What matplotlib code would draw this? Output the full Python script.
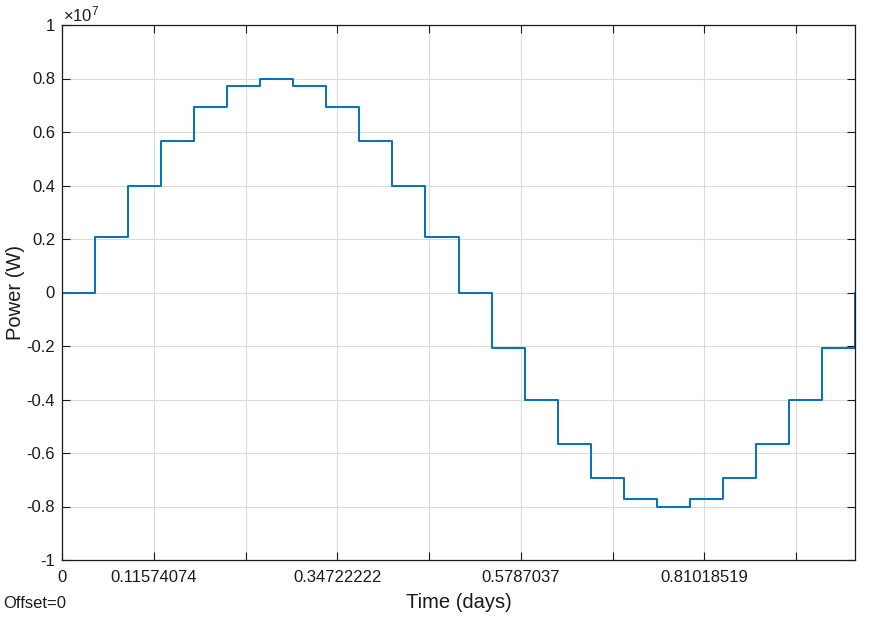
import matplotlib
matplotlib.use("Agg")
import matplotlib.pyplot as plt

plt.rcParams['font.family'] = ['Liberation Sans', 'DejaVu Sans']
plt.rcParams['axes.unicode_minus'] = False
plt.rcParams['mathtext.fontset'] = 'custom'
plt.rcParams['mathtext.rm'] = 'Liberation Sans'
plt.rcParams['mathtext.it'] = 'Liberation Sans'

# Data: hourly step power profile
hours = [0, 1, 2, 3, 4, 5, 6, 7, 8, 9, 10, 11, 12, 13, 14, 15, 16, 17, 18,
         19, 20, 21, 22, 23, 24]
power_w = [0, 2.07e6, 4.0e6, 5.66e6, 6.93e6, 7.73e6, 8.0e6, 7.73e6, 6.93e6,
           5.66e6, 4.0e6, 2.07e6, 0, -2.07e6, -4.0e6, -5.66e6, -6.93e6,
           -7.73e6, -8.0e6, -7.73e6, -6.93e6, -5.66e6, -4.0e6, -2.07e6, 0]

x_ticks_s = [0, 10000, 20000, 30000, 40000, 50000, 60000, 70000, 80000]
x_tick_labels = ['0', '0.11574074', '', '0.34722222', '', '0.5787037', '',
                 '0.81018519', '']
y_ticks = [-1e7, -0.8e7, -0.6e7, -0.4e7, -0.2e7, 0, 0.2e7, 0.4e7, 0.6e7,
           0.8e7, 1e7]
y_tick_labels = ['-1', '-0.8', '-0.6', '-0.4', '-0.2', '0', '0.2', '0.4',
                 '0.6', '0.8', '1']

days = [h / 24 for h in hours]
x_ticks = [s / 86400 for s in x_ticks_s]

W, H = 875, 619
fig = plt.figure(figsize=(W / 100, H / 100), dpi=100)
ax = fig.add_axes([62 / W, (H - 560) / H, 793 / W, 535 / H])

txt = '#1a1a1a'
ax.plot(days, power_w, drawstyle='steps-post', color='#0072BD', lw=1.4)

ax.set_xlim(0, 1)
ax.set_ylim(-1e7, 1e7)
ax.set_xticks(x_ticks)
ax.set_xticklabels(x_tick_labels)
ax.set_yticks(y_ticks)
ax.set_yticklabels(y_tick_labels)
ax.grid(True, color='#dcdcdc', lw=0.8)
ax.set_axisbelow(True)
ax.tick_params(direction='in', length=6, width=0.8, top=True, right=True,
               labelsize=12, colors=txt, pad=5)
ax.tick_params(axis='x', pad=7)
for sp in ax.spines.values():
    sp.set_color(txt)
    sp.set_linewidth(0.9)

ax.set_xlabel('Time (days)', fontsize=14.5, color=txt, labelpad=6)
fig.text(16 / W, 1 - 292 / H, 'Power (W)', fontsize=14.5, color=txt,
         rotation=90, ha='center', va='center')

fig.text(63 / W, 1 - 14 / H, r'$\times10^{7}$', fontsize=12, color=txt,
         ha='left', va='center')
fig.text(3 / W, 1 - 604 / H, 'Offset=0', fontsize=12, color=txt,
         ha='left', va='center')

fig.savefig('out.png', dpi=100)
